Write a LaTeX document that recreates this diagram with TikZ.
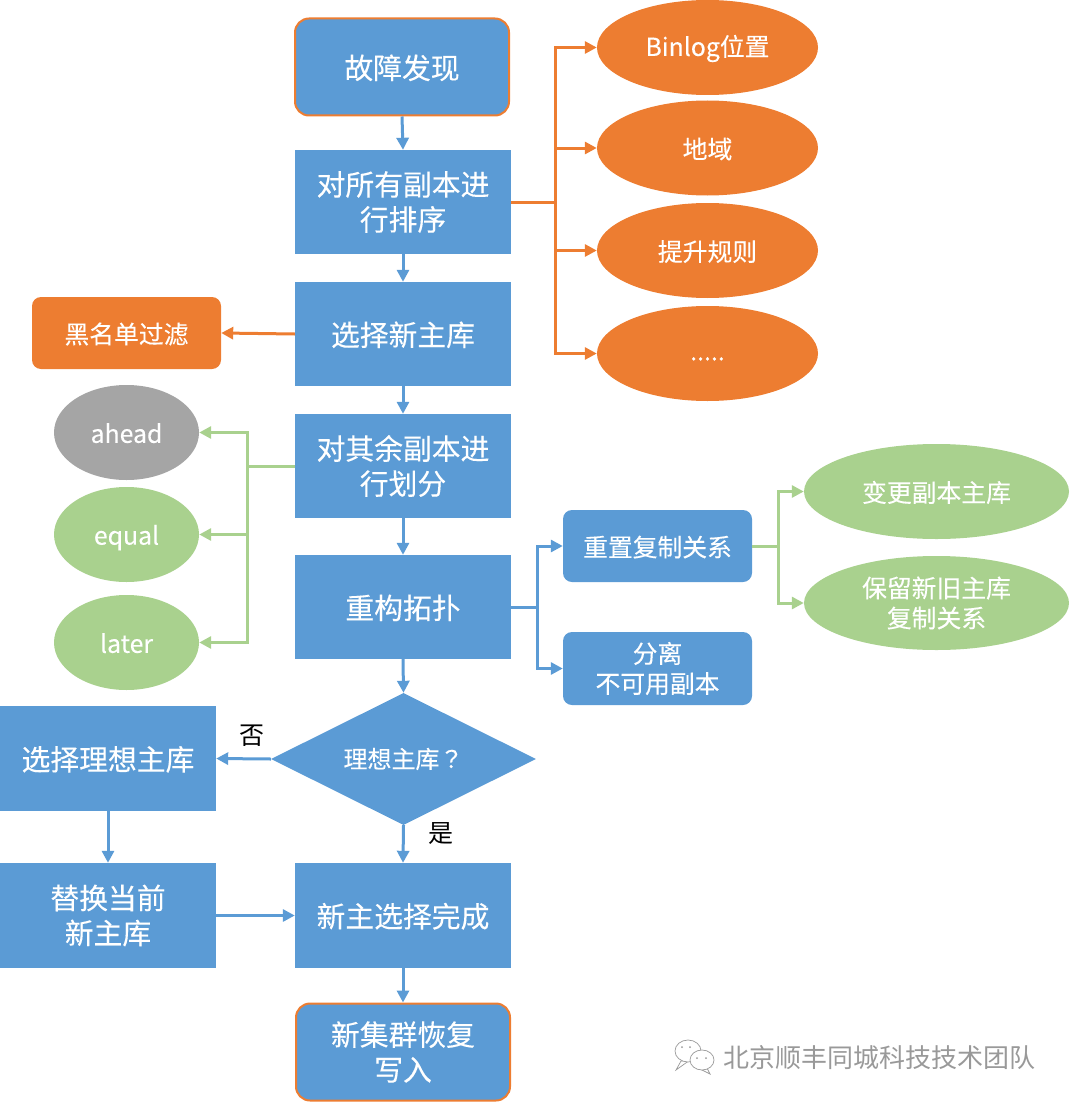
\documentclass[tikz,border=0pt]{standalone}
\usepackage{fontspec}
\setmainfont[FakeBold=0.2]{Noto Sans CJK SC}
\newfontfamily\plainfont{Noto Sans CJK SC}
\newfontfamily\tcfont[FakeBold=0.2]{Noto Sans CJK TC}
\usetikzlibrary{arrows.meta,shapes.geometric}
\definecolor{boxblue}{HTML}{5B9BD5}
\definecolor{boxorange}{HTML}{ED7D31}
\definecolor{boxgreen}{HTML}{A9D18E}
\definecolor{boxgray}{HTML}{A5A5A5}
\tikzset{
    strutht/.store in=\strutht,
    strutht=23pt,
    bigbox/.style={fill=boxblue,text=white,align=center,inner sep=0pt,minimum width=216pt,minimum height=104pt,font=\fontsize{28.8}{35}\selectfont,strutht=26pt,execute at begin node={\rule{0pt}{\strutht}}},
    endbox/.style={bigbox,draw=boxorange,line width=2pt,rounded corners=14pt,minimum width=214pt,minimum height=97pt},
    smallbox/.style={fill=boxblue,text=white,align=center,inner sep=0pt,rounded corners=9pt,minimum width=189pt,minimum height=72pt,font=\fontsize{24.8}{30}\selectfont,strutht=23pt,execute at begin node={\rule{0pt}{\strutht}}},
    bubble/.style={ellipse,text=white,align=center,inner sep=0pt,minimum width=221pt,minimum height=95pt,font=\fontsize{24.8}{30}\selectfont,strutht=23pt,execute at begin node={\rule{0pt}{\strutht}}},
    flow/.style={line width=3pt,-{Triangle[length=12pt,width=12pt]}},
    blueline/.style={flow,draw=boxblue,color=boxblue},
    orangeline/.style={flow,draw=boxorange,color=boxorange},
    greenline/.style={flow,draw=boxgreen,color=boxgreen},
    markline/.style={black!40,fill=white,line width=0.7pt}
}
\begin{document}
\begin{tikzpicture}[x=1pt,y=-1pt]
    \useasboundingbox (0,0) rectangle (1069,1105);
    % Main column
    \node[endbox] (start) at (402,67) {故障发现};
    \node[bigbox,strutht=33pt] (sort) at (403,202) {对所有副本进\\行排序};
    \node[bigbox] (select) at (403,334) {选择新主库};
    \node[bigbox,strutht=33pt] (divide) at (403,466) {对其余副本进\\行划分};
    \node[bigbox] (rebuild) at (403,607) {重构拓扑};
    \node[diamond,fill=boxblue,text=white,inner sep=0pt,aspect=2,minimum width=265pt,minimum height=132pt,font=\fontsize{24}{28}\selectfont] (ideal) at (403.5,759) {理想主库{\tcfont ？}};
    \node[bigbox,minimum height=105pt] (done) at (403,915.5) {新主选择完成};
    \node[endbox,strutht=30pt] (restore) at (403,1052) {新集群恢复\\写入};
    % Left column
    \node[bigbox,minimum height=105pt] (pick) at (108,758.5) {选择理想主库};
    \node[bigbox,minimum height=105pt,strutht=33pt] (swap) at (108,915.5) {替换当前\\新主库};
    \node[smallbox,fill=boxorange] (black) at (126.5,333) {黑名单过滤};
    % Sort keys
    \foreach \nm/\y/\txt in {bin/47.5/Binlog位置,region/148/地域,rule/250.5/提升规则} {
        \node[bubble,fill=boxorange] (\nm) at (707.5,\y) {\txt};
    }
    \node[bubble,fill=boxorange,strutht=14pt] (more) at (707.5,353.5) {.....};
    % Replica states
    \node[bubble,fill=boxgray,minimum width=145pt,strutht=21pt] (ahead) at (126.5,432.5) {ahead};
    \node[bubble,fill=boxgreen,minimum width=145pt,strutht=26pt] (equal) at (126.5,534.5) {equal};
    \node[bubble,fill=boxgreen,minimum width=145pt,strutht=21pt] (later) at (126.5,642.5) {later};
    % Rebuild steps
    \node[smallbox] (reset) at (657.5,546) {重置复制关系};
    \node[smallbox,minimum height=73pt,strutht=26pt] (split) at (657.5,668.5) {分离\\不可用副本};
    \node[bubble,fill=boxgreen,minimum width=265pt] (change) at (936.5,491.5) {变更副本主库};
    \node[bubble,fill=boxgreen,minimum width=265pt,minimum height=94pt,strutht=29pt] (keep) at (936.5,603) {保留新旧主库\\复制关系};
    % Branch points
    \coordinate (sortfork) at (555,202);
    \coordinate (divfork) at (247,466);
    \coordinate (rebfork) at (537,607);
    \coordinate (resfork) at (778,546);
    % Main flow
    \foreach \a/\b in {start/sort,sort/select,select/divide,divide/rebuild,rebuild/ideal,ideal/done,done/restore,pick/swap} {
        \draw[blueline] (\a.south) -- (\b.north);
    }
    \draw[blueline] (ideal.west) -- (pick.east);
    \draw[blueline] (swap.east) -- (done.west);
    \draw[orangeline] (select.west) -- (black.east);
    % Forks
    \foreach \b in {bin,region,rule,more} {
        \draw[orangeline] (sort.east) -- (sortfork) |- (\b.west);
    }
    \foreach \b in {ahead,equal,later} {
        \draw[greenline] (divide.west) -- (divfork) |- (\b.east);
    }
    \foreach \b in {reset,split} {
        \draw[blueline] (rebuild.east) -- (rebfork) |- (\b.west);
    }
    \foreach \b in {change,keep} {
        \draw[greenline] (reset.east) -- (resfork) |- (\b.west);
    }
    % Answers
    \node[font=\plainfont\fontsize{25}{28}\selectfont] (no) at (252,736) {否};
    \node[font=\plainfont\fontsize{25}{28}\selectfont] (yes) at (441,834) {是};
    % Watermark
    \node[text=black!40,font=\plainfont\fontsize{26}{30}\selectfont,anchor=west,inner sep=0pt] (mark) at (723,1058) {北京顺丰同城科技技术团队};
    \draw[markline] (676,1070) -- (681,1061) -- (690,1060) -- cycle;
    \draw[markline] (688,1051) ellipse (13pt and 11pt);
    \draw[markline] (710,1074) -- (706,1066) -- (698,1068) -- cycle;
    \draw[markline] (702,1060) ellipse (12pt and 10pt);
    \foreach \ex/\ey in {682/1047,690/1047,697/1058,706/1058} {
        \fill[black!40] (\ex,\ey) circle (1pt);
    }
\end{tikzpicture}
\end{document}
